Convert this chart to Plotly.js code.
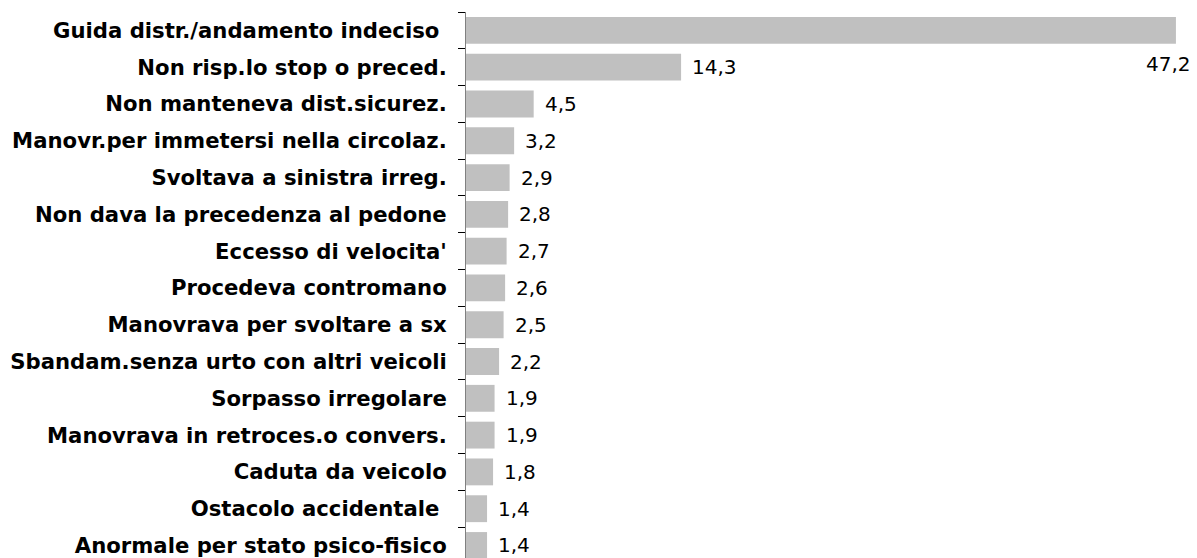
<!DOCTYPE html>
<html>
<head>
<meta charset="utf-8">
<script src="https://cdn.plot.ly/plotly-3.0.1.min.js"></script>
<style>
html,body{margin:0;padding:0;background:#fff;}
#chart{width:1197px;height:558px;}
</style>
</head>
<body>
<div id="chart"></div>
<script>
const categories = [
  "Guida distr./andamento indeciso\u00a0",
  "Non risp.lo stop o preced.",
  "Non manteneva dist.sicurez.",
  "Manovr.per immetersi nella circolaz.",
  "Svoltava a sinistra irreg.",
  "Non dava la precedenza al pedone",
  "Eccesso di velocita'",
  "Procedeva contromano",
  "Manovrava per svoltare a sx",
  "Sbandam.senza urto con altri veicoli",
  "Sorpasso irregolare",
  "Manovrava in retroces.o convers.",
  "Caduta da veicolo",
  "Ostacolo accidentale\u00a0",
  "Anormale per stato psico-fisico"
];
const values = [47.2, 14.3, 4.5, 3.2, 2.9, 2.8, 2.7, 2.6, 2.5, 2.2, 1.9, 1.9, 1.8, 1.4, 1.4];
const valueLabels = values.map(v => v.toFixed(1).replace('.', ','));

const maxV = Math.max(...values);

const annotations = values.map((v, i) => {
  const big = v > 0.9 * maxV;
  return {
    x: v, y: categories[i], xref: 'x', yref: 'y',
    text: valueLabels[i], showarrow: false,
    xanchor: big ? 'right' : 'left',
    yanchor: 'middle',
    xshift: big ? 17 : 9,
    yshift: big ? -34 : 0,
    font: {family: 'DejaVu Sans', size: 20, color: '#000'}
  };
});

const data = [{
  type: 'bar', orientation: 'h',
  x: values, y: categories,
  marker: {color: '#c0c0c0', line: {width: 0}},
  hoverinfo: 'skip'
}];

const layout = {
  width: 1197, height: 558,
  margin: {l: 466, r: 0, t: 12, b: 0, pad: 0},
  paper_bgcolor: '#fff', plot_bgcolor: '#fff',
  showlegend: false,
  bargap: 0.27,
  xaxis: {
    range: [0, 48.6], visible: false, fixedrange: true
  },
  yaxis: {
    type: 'category',
    categoryorder: 'array', categoryarray: categories,
    range: [14.34, -0.5],
    showgrid: false, zeroline: false,
    showline: true, linecolor: '#808080', linewidth: 1,
    ticks: 'outside', ticklen: 7, tickcolor: '#000', tickwidth: 1,
    tickson: 'boundaries',
    ticklabelstandoff: 14,
    tickfont: {family: 'DejaVu Sans', size: 21.2, color: '#000', weight: 'bold'},
    fixedrange: true
  },
  annotations: annotations
};

Plotly.newPlot('chart', data, layout, {displayModeBar: false, staticPlot: true});
</script>
</body>
</html>
